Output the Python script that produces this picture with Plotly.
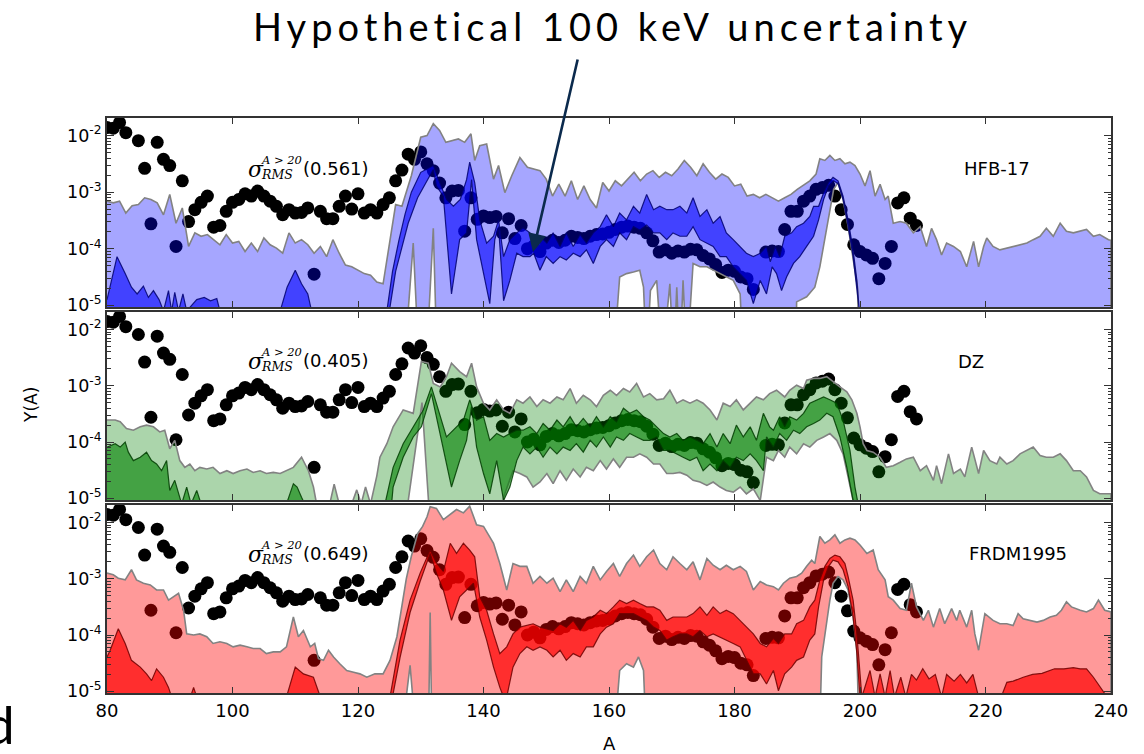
import plotly.graph_objects as go

# ---------------- data (log10 of Y(A)) ----------------
# solar r-process abundances (black dots)
dots_A = [80, 81, 82, 83, 85, 86, 87, 88, 89, 90, 91, 92, 93, 94, 95, 96, 97, 98, 99, 100,
          101, 102, 103, 104, 105, 106, 107, 108, 109, 110, 111, 112, 113, 114, 115, 116, 117, 118, 119, 120,
          121, 122, 123, 124, 125, 126, 127, 128, 129, 130, 131, 132, 133, 134, 135, 136, 137, 138, 139, 140,
          141, 142, 143, 144, 145, 146, 147, 148, 149, 150, 151, 152, 153, 154, 155, 156, 157, 158, 159, 160,
          161, 162, 163, 164, 165, 166, 167, 168, 169, 170, 171, 172, 173, 174, 175, 176, 177, 178, 179, 180,
          181, 182, 183, 185, 186, 187, 188, 189, 190, 191, 192, 193, 194, 195, 196, 197, 198, 199, 200,
          201, 202, 203, 204, 205, 206, 207, 208, 209]
dots_logY = [-1.86, -1.87, -1.77, -1.95, -2.09, -2.58, -3.56, -2.12, -2.42, -2.53, -3.96, -2.80, -3.52, -3.31, -3.18, -3.07, -3.62, -3.59, -3.34, -3.18,
             -3.13, -3.03, -3.07, -2.98, -3.07, -3.16, -3.25, -3.40, -3.31, -3.37, -3.36, -3.28, -4.45, -3.34, -3.47, -3.47, -3.25, -3.07, -3.30, -3.03,
             -3.37, -3.31, -3.37, -3.22, -3.10, -2.80, -2.61, -2.33, -2.42, -2.29, -2.50, -2.62, -2.84, -3.10, -2.98, -2.97, -3.69, -3.10, -3.48, -3.42,
             -3.45, -3.43, -3.72, -3.47, -3.82, -3.59, -4.00, -3.95, -4.05, -3.90, -3.85, -3.89, -3.85, -3.78, -3.80, -3.82, -3.78, -3.75, -3.74, -3.71,
             -3.66, -3.62, -3.60, -3.62, -3.64, -3.72, -3.86, -4.06, -4.02, -4.08, -4.04, -4.06, -4.01, -4.02, -4.12, -4.18, -4.28, -4.42, -4.38, -4.40,
             -4.50, -4.53, -4.72, -4.06, -4.04, -4.05, -3.66, -3.34, -3.34, -3.16, -3.07, -2.95, -2.92, -2.88, -3.07, -3.31, -3.57, -3.93, -4.05,
             -4.11, -4.17, -4.53, -4.26, -3.96, -3.19, -3.10, -3.46, -3.59]

# ---- HFB-17 ----
hfb_light_hi = [(80,-3.16),(81,-3.19),(82,-3.16),(83,-3.37),(84,-3.24),(85,-3.22),(86,-3.10),(87,-3.13),(88,-3.19),(89,-3.40),(90,-3.04),(91,-3.55),(92,-3.28),(93,-3.96),(94,-3.72),(95,-3.78),(96,-3.75),(97,-3.84),(98,-3.93),(99,-3.75),(100,-3.90),(101,-3.87),(102,-4.05),(103,-3.90),(104,-4.05),(105,-3.81),(106,-3.93),(107,-3.99),(108,-4.08),(109,-3.72),(110,-3.90),(111,-3.84),(112,-3.93),(113,-4.08),(114,-3.96),(115,-4.14),(116,-3.84),(117,-4.08),(118,-4.29),(119,-4.32),(120,-4.38),(121,-4.44),(122,-4.47),(123,-4.59),(124,-4.62),(125,-3.93),(126,-3.22),(127,-3.25),(128.5,-2.71),(130,-2.03),(131,-2.00),(132,-1.79),(133,-1.91),(134,-2.12),(135,-2.09),(136,-2.06),(137,-2.12),(138,-1.97),(138.6,-2.44),(139.4,-2.18),(140.5,-2.15),(141.6,-2.77),(142.4,-2.53),(143.4,-3.01),(144.5,-2.71),(145.8,-2.39),(147,-2.56),(148,-2.59),(149,-2.62),(150,-2.77),(151,-3.07),(152,-2.86),(153,-3.07),(154,-2.80),(155,-3.13),(156,-2.89),(157,-3.13),(158,-3.28),(159,-2.83),(160,-2.98),(161,-2.80),(162,-2.89),(163,-2.77),(164,-2.65),(165,-2.80),(166,-2.68),(167,-2.62),(168,-2.74),(169,-2.65),(170,-2.71),(171,-2.59),(172,-2.44),(173,-2.56),(174,-2.71),(175,-2.50),(176,-2.65),(177,-2.77),(178,-2.68),(179,-2.74),(180,-2.89),(181,-2.86),(182,-3.07),(183,-3.04),(184,-3.10),(185,-3.04),(186,-3.10),(187,-3.16),(188,-3.10),(189,-3.04),(190,-2.95),(191,-2.88),(192,-2.80),(193,-2.68),(193.6,-2.41),(194.4,-2.44),(195.2,-2.35),(196,-2.44),(196.8,-2.41),(197.6,-2.50),(198.4,-2.47),(199.2,-2.53),(200,-2.68),(200.8,-2.89),(201.6,-2.62),(202.4,-3.07),(203.2,-2.86),(204,-3.13),(204.5,-3.07),(205.3,-3.55),(206.4,-3.52),(207.4,-3.55),(208.5,-3.72),(209.6,-3.61),(210.6,-3.96),(211.4,-3.64),(212.2,-3.84),(213,-4.11),(213.8,-3.90),(214.9,-3.96),(216,-4.05),(217,-4.32),(218.1,-3.87),(218.9,-4.32),(219.7,-3.96),(220.2,-3.81),(221.2,-3.96),(222.3,-4.02),(223.4,-3.99),(224.4,-3.96),(225.5,-3.93),(226.6,-3.90),(227.6,-3.84),(228.7,-3.78),(229.7,-3.64),(230.3,-3.72),(230.8,-3.78),(231.9,-3.55),(232.9,-3.69),(234,-3.72),(235.1,-3.69),(236.1,-3.66),(237.2,-3.78),(238.2,-3.75),(239.6,-3.84),(240,-3.85)]
hfb_light_lo = [(80,-6),(127.4,-6),(128.8,-3.90),(129.7,-6),(130.9,-6),(132,-3.64),(132.6,-6),(160.7,-6),(161.7,-4.50),(162.8,-4.44),(163.9,-4.41),(164.9,-4.38),(165.5,-4.68),(166,-6),(166.6,-4.74),(167.6,-4.56),(168.5,-6),(169.7,-4.62),(170.3,-6),(170.8,-4.68),(171.3,-6),(171.8,-4.56),(172.4,-6),(173.4,-4.26),(174.5,-4.32),(175.6,-4.32),(176.6,-4.38),(177.7,-4.44),(179.8,-4.56),(180.9,-4.80),(181.4,-6),(189.8,-6),(189.9,-4.94),(191.5,-4.85),(192.8,-4.68),(193.6,-4.32),(194.4,-3.84),(195.2,-3.31),(195.8,-2.95),(196.5,-2.83),(197.3,-3.13),(198.1,-3.60),(198.9,-4.14),(199.6,-4.68),(199.9,-6),(240,-6)]
hfb_dark_hi = [(80,-4.90),(81.6,-4.14),(82.9,-4.44),(83.9,-4.68),(84.8,-4.80),(85.8,-4.66),(86.6,-4.86),(87.4,-4.74),(88.3,-4.90),(89,-5.1),(89.8,-4.74),(90.3,-5.1),(90.8,-4.77),(91.4,-5.1),(92.1,-4.80),(92.7,-5.1),(94.3,-4.90),(95.5,-4.86),(96.5,-4.92),(97.5,-4.88),(98,-5.1),(107.6,-5.1),(108.7,-4.68),(110,-4.38),(111,-4.62),(112,-4.80),(112.6,-5.1),(124.6,-5.1),(125.5,-4.40),(126.5,-3.86),(127.5,-3.39),(128.5,-3.00),(130,-2.65),(131.5,-2.55),(132,-2.53),(132.8,-2.77),(134.1,-3.13),(135.2,-3.25),(136.3,-3.13),(137.3,-2.78),(137.8,-2.47),(138.6,-2.83),(139.4,-3.49),(140.5,-3.90),(141.6,-3.78),(142.4,-3.49),(143.2,-4.14),(144.2,-3.84),(145.3,-3.72),(146.3,-3.63),(147.4,-3.72),(147.9,-3.96),(149,-3.78),(150.1,-3.90),(151.1,-3.72),(152.2,-3.96),(153.2,-3.72),(154.3,-3.96),(155.4,-3.75),(156.4,-3.90),(157.5,-3.72),(158.6,-3.61),(159.6,-3.40),(160.7,-3.61),(161.7,-3.37),(162.8,-3.49),(163.9,-3.25),(164.9,-3.37),(166,-3.04),(167.1,-3.31),(168.1,-3.25),(169.2,-3.31),(170.2,-3.31),(171.3,-3.25),(172.4,-3.37),(173.4,-3.10),(174.5,-3.43),(175.6,-3.31),(176.6,-3.55),(177.7,-3.43),(178.7,-3.72),(179.8,-3.84),(180.9,-3.96),(181.9,-4.08),(183,-4.14),(184.1,-4.08),(185.1,-3.96),(185.7,-4.23),(186.5,-3.96),(187.2,-4.14),(188,-3.78),(189.1,-3.72),(189.9,-3.61),(191,-3.55),(192,-3.43),(192.6,-3.25),(193.4,-3.25),(194.2,-3.01),(195,-2.83),(195.7,-2.74),(196.5,-2.80),(197.3,-3.07),(198.1,-3.49),(198.9,-4.02),(199.5,-4.56),(199.9,-5.1),(240,-6)]
hfb_dark_lo = [(80,-6),(124.6,-6),(125,-5.1),(126,-4.40),(127,-3.95),(128,-3.55),(129.5,-3.10),(131,-2.80),(132,-2.60),(132.5,-2.89),(133.6,-3.07),(134.9,-4.80),(136.2,-3.84),(137.3,-3.72),(138.1,-2.78),(138.9,-3.84),(140,-4.44),(141,-4.97),(141.8,-3.84),(142.4,-3.61),(143.2,-4.92),(144.2,-4.56),(145.3,-4.08),(146.3,-4.14),(147.4,-4.14),(148,-4.08),(149,-4.38),(150,-4.14),(151.1,-4.26),(152.2,-4.14),(153.2,-4.20),(154.3,-4.08),(155.4,-4.14),(156.4,-4.02),(157.5,-4.26),(158.6,-3.96),(159.6,-3.84),(160.7,-3.96),(161.7,-3.72),(162.8,-3.84),(163.9,-3.61),(164.9,-3.67),(166,-3.58),(167.1,-3.72),(168.1,-3.72),(169.2,-3.84),(170.2,-3.72),(171.3,-3.78),(172.4,-3.78),(173.4,-3.61),(174.5,-3.84),(175.6,-3.90),(176.6,-3.96),(177.7,-4.14),(178.7,-4.14),(179.8,-4.32),(180.9,-4.44),(181.9,-4.56),(183,-4.97),(184.1,-4.56),(185.1,-4.80),(186,-4.32),(186.7,-4.44),(187.5,-4.74),(188.3,-4.50),(189.4,-4.26),(190.4,-4.14),(191.5,-3.96),(192.6,-3.78),(193.4,-3.49),(194.2,-3.13),(195,-2.89),(195.8,-2.80),(196.5,-2.85),(197.3,-3.13),(198.1,-3.60),(198.9,-4.14),(199.5,-4.70),(199.9,-5.1),(200,-6),(240,-6)]

# ---- DZ ----
dz_light_hi = [(80,-3.61),(81.3,-3.61),(82.1,-3.64),(83.1,-3.76),(84.2,-3.79),(85.3,-3.73),(86.3,-3.70),(87.4,-3.73),(88.4,-3.82),(89.2,-3.79),(90,-4.12),(90.8,-3.97),(91.6,-4.33),(92.4,-4.45),(93.2,-4.39),(94,-4.51),(94.8,-4.45),(95.9,-4.48),(96.9,-4.45),(98,-4.56),(99.1,-4.51),(100.1,-4.56),(101.2,-4.51),(102.3,-4.48),(103.3,-4.54),(104.4,-4.51),(105.4,-4.56),(106.5,-4.54),(107.6,-4.56),(108.6,-4.51),(109.7,-4.45),(111,-4.27),(112.1,-4.51),(112.9,-4.80),(113.4,-5.1),(115.5,-5.1),(116.2,-4.75),(117,-5.1),(119,-5.1),(119.8,-4.85),(120.5,-5.1),(121.2,-4.80),(122,-5.1),(123,-4.6),(123.5,-4.27),(124.6,-4.03),(125.6,-3.73),(127.2,-3.43),(128.8,-3.49),(130.1,-2.57),(131.2,-2.60),(132,-2.96),(133.1,-3.02),(134.1,-2.84),(134.9,-2.60),(136.2,-2.75),(137.3,-2.84),(138.1,-2.60),(138.9,-3.02),(140,-3.31),(141,-3.43),(142.1,-3.25),(143.2,-3.43),(144.2,-3.49),(145.3,-3.25),(146.3,-3.31),(147.4,-3.20),(148.5,-3.37),(149.5,-3.25),(150.6,-3.31),(151.7,-3.20),(152.7,-3.25),(153.8,-3.05),(154.8,-3.31),(155.9,-3.17),(157,-3.25),(158,-3.37),(159.1,-3.17),(160.2,-3.08),(161.2,-3.17),(162.3,-3.05),(163.3,-3.11),(164.4,-2.96),(165.5,-3.20),(166.5,-3.14),(167.6,-3.25),(168.7,-3.23),(169.7,-3.08),(170.8,-3.31),(171.8,-3.25),(172.9,-3.31),(174,-3.25),(175,-3.31),(176.1,-3.43),(177.2,-3.61),(178.2,-3.31),(179.3,-3.37),(180.3,-3.25),(181.4,-3.43),(182.5,-3.31),(183.5,-3.20),(184.6,-3.25),(185.6,-3.14),(186.7,-3.08),(188,-3.20),(188.8,-3.08),(189.9,-2.99),(191,-3.05),(191.5,-2.90),(192.6,-2.87),(193.6,-2.87),(194.7,-2.84),(195.7,-2.93),(196.8,-3.02),(197.9,-3.11),(198.7,-3.25),(199.5,-3.49),(200,-3.73),(200.5,-4.03),(201.1,-4.15),(202.1,-4.18),(203.2,-4.27),(204.2,-4.45),(205.3,-4.42),(206.4,-4.36),(207.4,-4.30),(208.5,-4.27),(209.6,-4.51),(210.6,-4.42),(211.7,-4.68),(212.2,-4.42),(213,-4.74),(214.1,-4.21),(214.9,-4.56),(216,-4.48),(216.7,-4.62),(217.8,-4.09),(218.9,-4.56),(219.7,-4.15),(220.7,-4.33),(221.8,-4.39),(222.3,-4.27),(223.4,-4.39),(224.4,-4.33),(225.5,-4.21),(226.6,-4.15),(227.6,-4.09),(228.7,-4.24),(229.7,-4.27),(230.8,-4.27),(231.9,-4.21),(232.9,-4.33),(234,-4.51),(235.1,-4.51),(236.1,-4.62),(237.2,-4.86),(238.2,-4.92),(240,-4.92)]
dz_light_lo = [(80,-6),(126.8,-6),(130.2,-3.30),(131.8,-6),(142.1,-6),(143.2,-4.98),(144.7,-4.51),(145.8,-4.56),(146.9,-4.62),(147.9,-4.80),(149,-4.71),(150.1,-4.56),(151.1,-4.74),(152.2,-4.51),(153.2,-4.68),(154.3,-4.48),(155.4,-4.62),(156.4,-4.45),(157.5,-4.51),(158.6,-4.33),(159.6,-4.48),(160.7,-4.30),(161.7,-4.45),(162.8,-4.27),(163.9,-4.27),(164.9,-4.21),(166,-4.27),(167.1,-4.39),(168.1,-4.39),(169.2,-4.56),(170.2,-4.56),(171.3,-4.54),(172.4,-4.59),(173.4,-4.68),(174.5,-4.71),(175.6,-4.77),(176.6,-4.71),(177.7,-4.80),(178.7,-4.86),(179.8,-4.89),(180.9,-4.80),(181.9,-4.92),(183,-4.83),(184.1,-5.04),(185.1,-4.27),(186.2,-4.33),(187,-4.15),(188,-4.27),(188.8,-4.09),(189.9,-4.21),(191,-4.03),(192,-4.09),(193.1,-3.97),(194.2,-3.91),(195.2,-3.85),(196.3,-3.97),(197.3,-4.21),(198.1,-4.62),(198.9,-5.04),(199.2,-6),(240,-6)]
dz_dark_hi = [(80,-4.09),(81.3,-4.03),(82.1,-4.09),(82.9,-4.00),(83.4,-4.18),(84.2,-4.33),(85.3,-4.27),(86.3,-4.18),(87.1,-4.33),(87.9,-4.39),(88.7,-4.51),(89.5,-4.33),(90,-4.86),(90.8,-4.68),(91.9,-5.1),(92.7,-4.80),(93.4,-5.1),(94.3,-4.86),(95,-5.1),(108.6,-5.1),(109.7,-4.74),(110.3,-4.80),(111,-4.98),(111.5,-5.1),(124.3,-5.1),(125.6,-4.45),(127.2,-4.03),(128.8,-3.73),(130.4,-3.43),(131.7,-3.02),(132.8,-3.43),(134.1,-3.91),(135.7,-3.73),(136.8,-3.61),(137.8,-3.25),(138.9,-3.61),(140,-3.55),(141,-3.97),(142.1,-3.85),(143.2,-3.91),(144.2,-3.85),(145.3,-3.79),(146.3,-3.79),(147.4,-3.73),(148.5,-3.85),(149.5,-3.67),(150.6,-3.79),(151.7,-3.61),(152.7,-3.73),(153.8,-3.55),(154.8,-3.73),(155.9,-3.58),(157,-3.73),(158,-3.55),(159.1,-3.73),(160.2,-3.55),(161.2,-3.64),(162.3,-3.40),(163.3,-3.49),(164.4,-3.43),(165.5,-3.55),(166.5,-3.61),(167.6,-3.73),(168.7,-3.85),(169.7,-3.91),(170.8,-3.85),(171.8,-3.97),(172.9,-3.91),(174,-3.97),(175,-4.03),(176.1,-3.85),(177.2,-4.09),(178.2,-3.85),(179.3,-4.03),(180.3,-3.70),(181.4,-3.91),(182.5,-3.73),(183.5,-3.97),(184.6,-3.49),(185.6,-3.73),(186.2,-3.79),(187.2,-3.55),(188,-3.73),(188.8,-3.55),(189.9,-3.61),(191,-3.49),(192,-3.31),(193.1,-3.25),(194.2,-3.20),(195.2,-3.25),(196.3,-3.31),(197.3,-3.61),(198.4,-4.15),(199.2,-4.80),(199.7,-5.1),(200,-6),(240,-6)]
dz_dark_lo = [(80,-6),(124.6,-6),(125.6,-4.80),(127.2,-4.27),(128.8,-3.91),(130.1,-3.73),(131.7,-3.14),(132.8,-3.73),(134.9,-4.80),(136.2,-4.33),(137.3,-3.97),(138.1,-3.37),(138.9,-4.09),(140,-4.56),(141,-4.92),(142.1,-4.33),(143.2,-5.04),(144.2,-4.80),(145.3,-4.33),(146.3,-4.09),(147.4,-4.21),(148.5,-4.09),(149.5,-4.27),(150.6,-4.09),(151.7,-4.21),(152.7,-4.09),(153.8,-4.15),(154.8,-4.03),(155.9,-4.18),(157,-3.97),(158,-4.09),(159.1,-3.91),(160.2,-4.09),(161.2,-3.91),(162.3,-3.97),(163.3,-3.85),(164.4,-3.91),(165.5,-3.97),(166.5,-3.97),(167.6,-3.91),(168.7,-4.15),(169.7,-4.15),(170.8,-4.21),(171.8,-4.27),(172.9,-4.33),(174,-4.27),(175,-4.51),(176.1,-4.39),(177.2,-4.51),(178.2,-4.33),(179.3,-4.45),(180.3,-4.27),(181.4,-4.33),(182.5,-4.21),(183.5,-4.33),(184.6,-4.51),(185.1,-3.91),(186.2,-4.09),(187.2,-3.85),(188.3,-3.97),(189.4,-3.79),(190.4,-3.85),(191.5,-3.73),(192.6,-3.67),(193.6,-3.61),(194.7,-3.49),(195.7,-3.55),(196.8,-3.91),(197.9,-4.45),(198.9,-5.04),(199.3,-6),(240,-6)]

# ---- FRDM1995 ----
frdm_light_hi = [(80,-2.90),(81,-2.93),(81.8,-2.99),(82.9,-3.02),(83.9,-2.84),(84.7,-3.02),(85.8,-3.08),(86.9,-3.11),(87.9,-3.20),(89,-3.20),(89.8,-3.38),(90.6,-3.32),(91.4,-3.26),(92.2,-3.56),(92.7,-3.98),(93.8,-4.00),(94.8,-3.98),(95.9,-4.03),(96.9,-4.15),(98,-4.12),(99.1,-4.15),(100.1,-4.21),(101.2,-4.18),(102.3,-4.21),(103.3,-4.24),(104.4,-4.24),(105.4,-4.33),(106.5,-4.30),(107.6,-4.30),(108.6,-4.21),(109.7,-3.68),(110.5,-4.03),(111.3,-3.92),(112.4,-4.21),(113.1,-4.15),(113.7,-4.42),(114.5,-4.45),(115.3,-4.27),(116.1,-4.39),(117.1,-4.51),(118.2,-4.63),(119.3,-4.66),(120.3,-4.69),(121.4,-4.75),(122.7,-4.69),(124,-4.69),(125.1,-4.45),(126.2,-4.03),(126.7,-3.70),(127.7,-3.00),(128.5,-2.60),(129.5,-2.20),(130.3,-2.07),(131,-1.90),(131.5,-1.72),(132.5,-1.75),(133.6,-1.95),(134.6,-1.86),(135.7,-1.77),(136.8,-1.83),(137.8,-1.71),(138.9,-2.04),(140,-2.07),(141.6,-2.37),(142.6,-2.73),(143.7,-3.20),(144.7,-2.73),(145.8,-2.78),(146.9,-2.78),(147.9,-3.08),(149,-2.96),(150.1,-3.08),(151.1,-2.99),(152.2,-3.23),(153.2,-3.02),(154.3,-3.23),(155.4,-2.96),(156.4,-3.08),(157.5,-2.78),(158.6,-3.02),(159.6,-2.87),(160.7,-2.73),(161.7,-2.96),(162.8,-2.73),(163.9,-2.58),(164.9,-2.78),(166,-2.61),(167.1,-2.49),(168.1,-2.73),(169.2,-2.84),(170.2,-2.61),(171.3,-2.73),(172.4,-2.84),(173.4,-2.70),(174.5,-3.02),(175.6,-2.64),(176.6,-2.76),(177.7,-2.84),(178.7,-2.76),(179.8,-2.84),(180.9,-2.78),(181.9,-2.87),(183,-3.20),(184.1,-3.05),(185.1,-3.11),(186.2,-3.14),(187,-3.20),(187.8,-3.08),(188.8,-2.99),(189.9,-2.96),(190.7,-2.90),(191.5,-2.78),(192.3,-2.67),(192.8,-2.73),(193.6,-2.25),(194.4,-2.37),(195.2,-2.31),(196,-2.22),(196.8,-2.37),(197.6,-2.31),(198.4,-2.28),(199.2,-2.31),(200,-2.40),(201.1,-2.55),(202.1,-2.49),(202.9,-2.84),(204,-3.02),(204.5,-3.32),(205.3,-3.38),(206.4,-3.53),(207.4,-3.56),(208.2,-3.08),(209,-3.50),(210.1,-3.74),(210.9,-3.56),(211.7,-3.86),(212.7,-3.53),(213.5,-3.80),(214.6,-3.53),(215.4,-3.74),(215.9,-3.56),(217,-3.86),(217.8,-3.56),(218.3,-3.98),(218.9,-4.27),(219.9,-3.62),(221.2,-3.74),(222.3,-3.80),(223.4,-3.80),(224.4,-3.83),(225.2,-3.62),(226,-3.71),(227.1,-3.74),(228.2,-3.77),(229.2,-3.74),(230.3,-3.68),(231.3,-3.65),(232.1,-3.56),(232.9,-3.41),(233.7,-3.50),(235.1,-3.56),(236.1,-3.59),(237.2,-3.53),(238,-3.38),(239,-3.56),(240,-3.59)]
frdm_light_lo = [(80,-6),(126.7,-6),(128.3,-4.54),(129.4,-6),(131.2,-6),(131.5,-3.60),(131.8,-6),(160.7,-6),(161.7,-4.63),(162.8,-4.51),(163.9,-4.57),(164.7,-4.39),(165.5,-4.63),(166,-6),(193.5,-6),(193.9,-4.39),(194.4,-3.98),(195.2,-3.38),(195.7,-3.08),(196.5,-2.96),(197.3,-3.02),(198.1,-3.20),(198.9,-3.68),(199.5,-4.27),(199.9,-6),(240,-6)]
frdm_dark_hi = [(80,-4.39),(80.5,-4.27),(81.8,-3.89),(82.9,-4.15),(83.9,-4.45),(85.3,-4.57),(86.3,-4.69),(87.1,-4.81),(87.9,-4.60),(89,-4.75),(89.8,-4.93),(90.3,-5.1),(93.3,-5.1),(93.8,-4.93),(94.3,-5.1),(108.6,-5.1),(110,-4.57),(111.3,-4.69),(112.9,-4.75),(114,-5.1),(125.1,-5.1),(126.7,-4.09),(128.3,-3.38),(129.9,-2.90),(131.5,-2.49),(132.5,-2.72),(133.6,-2.87),(134.7,-2.37),(135.7,-2.55),(136.8,-2.37),(137.8,-2.49),(138.6,-2.61),(139.4,-3.32),(140.5,-3.56),(141.6,-3.98),(142.6,-4.33),(143.7,-4.21),(144.7,-3.98),(145.8,-3.86),(146.9,-3.83),(147.9,-3.80),(149,-3.86),(150.1,-3.89),(151.1,-3.92),(152.2,-3.80),(153.2,-3.86),(154.3,-3.74),(155.4,-3.92),(156.4,-3.74),(157.5,-3.68),(158.6,-3.56),(159.6,-3.62),(160.7,-3.50),(161.7,-3.38),(162.8,-3.44),(163.9,-3.38),(164.9,-3.44),(166,-3.50),(167.1,-3.50),(168.1,-3.56),(169.2,-3.74),(170.2,-3.68),(171.3,-3.68),(172.4,-3.68),(173.4,-3.62),(174.5,-3.50),(175.6,-3.65),(176.6,-3.50),(177.7,-3.62),(178.7,-3.56),(179.8,-3.62),(180.9,-3.74),(181.9,-3.86),(183,-3.98),(184.1,-4.15),(185.1,-4.21),(186.2,-4.06),(187,-4.15),(188,-3.98),(189.1,-3.98),(189.9,-3.80),(191,-3.74),(192,-3.50),(192.8,-3.38),(193.6,-3.02),(194.4,-2.78),(195.2,-2.64),(196,-2.58),(196.8,-2.61),(197.6,-2.73),(198.1,-2.96),(198.9,-3.38),(199.5,-3.98),(200,-4.69),(200.3,-5.1),(201.6,-4.63),(202.4,-5.1),(203.2,-4.69),(204,-5.1),(204.8,-4.63),(205.5,-5.1),(206.5,-4.75),(207.3,-5.1),(208.2,-4.70),(209,-4.80),(210,-4.60),(211,-4.78),(212,-4.70),(213,-5.1),(213.8,-4.70),(215,-4.82),(216,-4.70),(217,-4.85),(218,-4.70),(218.9,-5.1),(222.5,-5.1),(223.4,-4.84),(224.4,-4.82),(226,-4.75),(227.5,-4.70),(229,-4.68),(231,-4.60),(232.5,-4.60),(234,-4.58),(235.1,-4.60),(236.1,-4.60),(237.2,-4.75),(239,-5.04),(240,-5.1)]
frdm_dark_lo = [(80,-6),(125.1,-6),(125.5,-5.1),(126.7,-4.40),(128.3,-3.60),(129.9,-3.05),(131.5,-2.55),(132.5,-2.90),(133.6,-3.20),(134.9,-3.74),(136.2,-3.32),(137.3,-3.20),(138.4,-3.08),(139.4,-3.68),(140.5,-4.09),(141.6,-4.57),(142.6,-4.93),(143.2,-5.1),(143.7,-5.1),(144.7,-4.57),(145.8,-4.33),(146.9,-4.21),(147.9,-4.27),(149,-4.21),(150.1,-4.27),(151.1,-4.39),(152.2,-4.27),(153.2,-4.45),(154.3,-4.33),(155.4,-4.39),(156.4,-4.21),(157.5,-4.21),(158.6,-3.98),(159.6,-3.86),(160.7,-3.80),(161.7,-3.62),(162.8,-3.62),(163.9,-3.62),(164.9,-3.68),(166,-3.74),(167.1,-3.86),(168.1,-3.92),(169.2,-4.09),(170.2,-4.03),(171.3,-3.98),(172.4,-3.98),(173.4,-4.03),(174.5,-3.92),(175.6,-4.03),(176.6,-3.98),(177.7,-4.03),(178.7,-4.09),(179.8,-4.15),(180.9,-4.21),(181.9,-4.45),(183,-4.69),(184.1,-4.69),(185.1,-4.87),(186.2,-4.63),(187,-4.99),(188,-4.69),(189.1,-4.57),(189.9,-4.45),(191,-4.39),(192,-4.09),(192.8,-3.98),(193.4,-3.50),(194.2,-3.02),(195,-2.78),(195.7,-2.67),(196.5,-2.70),(197.3,-2.84),(198.1,-3.14),(198.9,-3.68),(199.5,-4.33),(200,-5.1),(200.3,-6),(240,-6)]

# labels
models = ["HFB-17", "DZ", "FRDM1995"]
sigma_rms = ["0.561", "0.405", "0.649"]
x_ticks = [80, 100, 120, 140, 160, 180, 200, 220, 240]
y_ticks = [1e-5, 1e-4, 1e-3, 1e-2]
y_ticktext = ["10<sup>-5</sup>", "10<sup>-4</sup>", "10<sup>-3</sup>", "10<sup>-2</sup>"]

# ---------------- styling ----------------
W, H = 1144, 754
ML, MR, MT, MB = 107, 33, 118, 61
PW, PH = W - ML - MR, H - MT - MB
FONT = "DejaVu Sans"

def px(xp):
    return (xp - ML) / PW

def py(yp):
    return (H - MB - yp) / PH

panels = [
    dict(bands=(hfb_light_hi, hfb_light_lo, hfb_dark_hi, hfb_dark_lo),
         light="rgba(0,0,255,0.35)", dark="rgba(0,0,255,0.6)", edge="rgba(0,0,110,0.85)",
         top=118, bottom=307),
    dict(bands=(dz_light_hi, dz_light_lo, dz_dark_hi, dz_dark_lo),
         light="rgba(0,128,0,0.33)", dark="rgba(0,128,0,0.6)", edge="rgba(0,60,0,0.85)",
         top=312, bottom=500),
    dict(bands=(frdm_light_hi, frdm_light_lo, frdm_dark_hi, frdm_dark_lo),
         light="rgba(255,0,0,0.4)", dark="rgba(255,0,0,0.7)", edge="rgba(110,0,0,0.85)",
         top=505, bottom=693),
]


def polygon(upper, lower):
    xs = [a for a, _ in upper] + [a for a, _ in lower[::-1]]
    ys = [10 ** v for _, v in upper] + [10 ** v for _, v in lower[::-1]]
    return xs, ys


fig = go.Figure()
minor_vals = [m * 10 ** e for e in range(-6, -1) for m in range(2, 10)]

for i, p in enumerate(panels):
    xa = "x" if i == 0 else f"x{i+1}"
    ya = "y" if i == 0 else f"y{i+1}"
    lhi, llo, dhi, dlo = p["bands"]
    fig.add_trace(go.Scatter(x=dots_A, y=[10 ** v for v in dots_logY], mode="markers",
                             marker=dict(color="black", size=13), xaxis=xa, yaxis=ya,
                             hoverinfo="skip", showlegend=False))
    xs, ys = polygon(lhi, llo)
    fig.add_trace(go.Scatter(x=xs, y=ys, mode="lines", fill="toself", fillcolor=p["light"],
                             line=dict(color="rgb(130,130,130)", width=1.6), xaxis=xa, yaxis=ya,
                             hoverinfo="skip", showlegend=False))
    xs, ys = polygon(dhi, dlo)
    fig.add_trace(go.Scatter(x=xs, y=ys, mode="lines", fill="toself", fillcolor=p["dark"],
                             line=dict(color=p["edge"], width=1.2), xaxis=xa, yaxis=ya,
                             hoverinfo="skip", showlegend=False))

    dom = [py(p["bottom"]), py(p["top"])]
    xkey = "xaxis" if i == 0 else f"xaxis{i+1}"
    ykey = "yaxis" if i == 0 else f"yaxis{i+1}"
    fig.update_layout({
        xkey: dict(domain=[0, 1], anchor=ya, range=[80, 240], tickvals=x_ticks,
                   showticklabels=(i == 2), ticks="inside", ticklen=6, tickwidth=1.2,
                   tickcolor="#333", showline=True, linecolor="#333", linewidth=2,
                   mirror="ticks", showgrid=False, zeroline=False,
                   tickfont=dict(family=FONT, size=18, color="black")),
        ykey: dict(domain=dom, anchor=xa, type="log", range=[-5.03, -1.69],
                   tickvals=y_ticks, ticktext=y_ticktext, ticks="inside", ticklen=7,
                   tickwidth=1.2, tickcolor="#333", showline=True, linecolor="#333",
                   linewidth=2, mirror="ticks", showgrid=False, zeroline=False,
                   tickfont=dict(family=FONT, size=17.5, color="black"),
                   minor=dict(tickvals=minor_vals, ticks="inside", ticklen=3.5,
                              tickcolor="#333", showgrid=False)),
    })

annotations = []
label_pos = [(997, 168), (971, 361), (1018, 553)]
sig_y = [169, 361, 554]
for i in range(3):
    annotations.append(dict(x=px(label_pos[i][0]), y=py(label_pos[i][1]), xref="paper", yref="paper",
                            text=models[i], showarrow=False, xanchor="center", yanchor="middle",
                            font=dict(family=FONT, size=18, color="black")))
    yc = sig_y[i]
    annotations.append(dict(x=px(256), y=py(yc), xref="paper", yref="paper", text="<i>σ</i>",
                            showarrow=False, xanchor="center", yanchor="middle",
                            font=dict(family="DejaVu Serif", size=22, color="black")))
    annotations.append(dict(x=px(281), y=py(yc - 9), xref="paper", yref="paper", text="<i>A</i> &gt; <i>20</i>",
                            showarrow=False, xanchor="center", yanchor="middle",
                            font=dict(family="DejaVu Serif", size=11.5, color="black")))
    annotations.append(dict(x=px(277), y=py(yc + 5), xref="paper", yref="paper", text="<i>RMS</i>",
                            showarrow=False, xanchor="center", yanchor="middle",
                            font=dict(family="DejaVu Serif", size=12.5, color="black")))
    annotations.append(dict(x=px(336), y=py(yc - 1), xref="paper", yref="paper", text=f"({sigma_rms[i]})",
                            showarrow=False, xanchor="center", yanchor="middle",
                            font=dict(family=FONT, size=18, color="black")))

annotations += [
    dict(x=px(31), y=py(405), xref="paper", yref="paper", text="Y(A)", textangle=-90,
         showarrow=False, xanchor="center", yanchor="middle",
         font=dict(family=FONT, size=17, color="black")),
    dict(x=px(609), y=py(743), xref="paper", yref="paper", text="A",
         showarrow=False, xanchor="center", yanchor="middle",
         font=dict(family=FONT, size=18, color="black")),
    dict(x=px(612), y=py(26), xref="paper", yref="paper",
         text='<span style="letter-spacing:5px">Hypothetical 100 keV uncertainty</span>',
         showarrow=False, xanchor="center", yanchor="middle",
         font=dict(family="Lato", size=38, color="black")),
    dict(x=px(533), y=py(252), xref="paper", yref="paper", text="", showarrow=True,
         ax=45, ay=-194, arrowhead=2, arrowsize=1.4, arrowwidth=2.6, arrowcolor="#0b2a4d"),
    dict(x=px(17), y=py(757), xref="paper", yref="paper", text="d",
         showarrow=False, xanchor="right", yanchor="bottom",
         font=dict(family="Lato", size=53, color="black")),
]

fig.update_layout(width=W, height=H, margin=dict(l=ML, r=MR, t=MT, b=MB),
                  paper_bgcolor="white", plot_bgcolor="white", showlegend=False,
                  annotations=annotations)

fig.write_html("out.html")
